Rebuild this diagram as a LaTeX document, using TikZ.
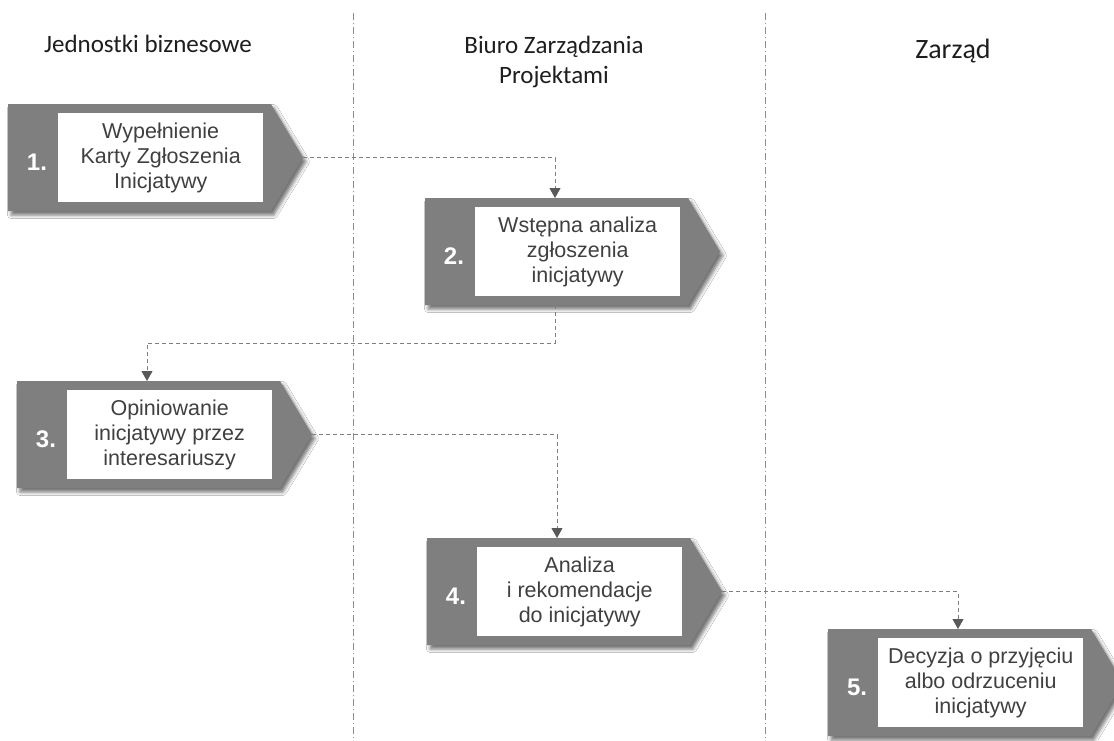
\documentclass[tikz,border=0pt]{standalone}
\usepackage{fontspec}
\setmainfont{Liberation Sans}
\newfontfamily\headfont{Carlito}
\usetikzlibrary{arrows.meta,shadows.blur}

\definecolor{stepgray}{HTML}{7F7F7F}
\definecolor{steptext}{HTML}{404040}
\definecolor{tipgray}{HTML}{595959}
\definecolor{lanegray}{HTML}{8C8C8C}
\definecolor{headtext}{HTML}{1E1E1E}

\tikzset{
  stepshape/.style={fill=stepgray,
    blur shadow={shadow xshift=3pt, shadow yshift=-4pt, shadow blur radius=3.5pt, shadow opacity=55}},
  stepbox/.style={fill=white, inner sep=0pt, minimum width=205pt, minimum height=89pt,
    align=center, text=steptext, font=\fontsize{21.5}{25}\selectfont},
  stepnum/.style={text=white, font=\bfseries\fontsize{24}{28}\selectfont, inner sep=0pt},
  flow/.style={draw=stepgray, line width=1pt, dash pattern=on 4pt off 3pt,
    -{Triangle[width=11pt,length=10pt,color=tipgray]}},
  lane/.style={draw=lanegray, line width=1pt, dash pattern=on 7pt off 3pt on 1pt off 3pt},
  header/.style={text=headtext, font=\headfont\fontsize{25}{30}\selectfont, align=center}
}

% one process step: gray chevron, white text box, step number and anchor points
% #1 name, #2 left edge, #3 top edge, #4 number, #5 text
\newcommand\flowstep[5]{%
  \fill[stepshape] (#2,#3) -- ++(263,0) -- ++(32,53.5) -- ++(-32,53.5) -- ++(-263,0) -- cycle;
  \node[stepbox, anchor=north west] (#1) at (#2+50,#3+9) {#5};
  \node[stepnum] (#1num) at (#2+29,#3+58) {#4};
  \coordinate (#1in) at (#2+130,#3);
  \coordinate (#1out) at (#2+130,#3+107);
  \coordinate (#1tip) at (#2+295,#3+53.5);
}

\begin{document}
\begin{tikzpicture}[x=1pt,y=-1pt]
  \useasboundingbox (0,0) rectangle (1114,740);
  \clip (0,0) rectangle (1114,740);
  \fill[white] (0,0) rectangle (1114,740);

  % swimlane separators
  \draw[lane] (353,13) -- (353,740);
  \draw[lane] (765,13) -- (765,740);

  % lane headers
  \node[header, anchor=base] (laneA) at (148,52) {Jednostki biznesowe};
  \node[header] (laneB) at (554,62) {Biuro Zarządzania\\Projektami};
  \node[header, font=\headfont\fontsize{28}{32}\selectfont, anchor=base] (laneC) at (953,58) {Zarząd};

  % process steps
  \flowstep{s1}{8}{104}{1.}{Wypełnienie\\Karty Zgłoszenia\\Inicjatywy}
  \flowstep{s2}{425}{198}{2.}{Wstępna analiza\\zgłoszenia\\inicjatywy}
  \flowstep{s3}{17}{381}{3.}{Opiniowanie\\inicjatywy przez\\interesariuszy}
  \flowstep{s4}{427}{538}{4.}{Analiza\\i rekomendacje\\do inicjatywy}
  \flowstep{s5}{828}{629}{5.}{Decyzja o przyjęciu\\albo odrzuceniu\\inicjatywy}

  % flow between steps
  \draw[flow] (s1tip) -| (s2in);
  \draw[flow] (s2out) -- ++(0,38) -| (s3in);
  \draw[flow] (s3tip) -| (s4in);
  \draw[flow] (s4tip) -| (s5in);
\end{tikzpicture}
\end{document}
